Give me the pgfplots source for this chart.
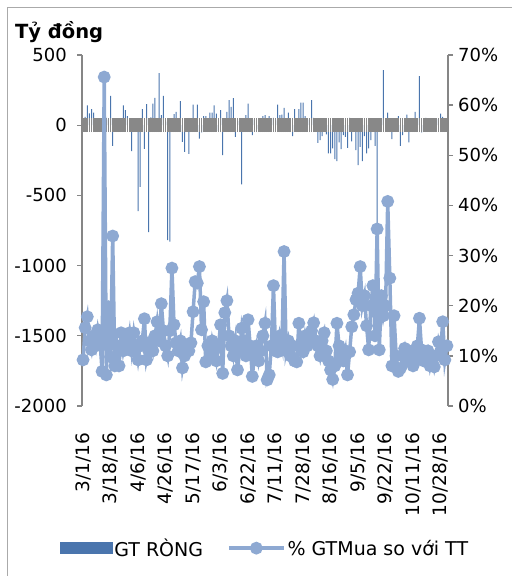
\documentclass[border=0pt]{standalone}
\usepackage{pgfplots}
\pgfplotsset{compat=1.18}
\usepackage{fontspec}
\setmainfont{DejaVu Sans}
\definecolor{barcol}{RGB}{74,117,173}
\definecolor{linecol}{RGB}{142,169,210}
\definecolor{axgray}{RGB}{134,134,134}
\definecolor{bandgray}{RGB}{136,136,136}
\definecolor{framegray}{RGB}{170,170,170}
\newcommand{\tickfont}{\fontsize{18bp}{20bp}\selectfont}
\newcommand{\datefont}{\fontsize{18.5bp}{20bp}\selectfont}
\newcommand{\legfont}{\fontsize{19bp}{21bp}\selectfont}
\begin{document}
\begin{tikzpicture}[x=1bp,y=1bp]
\useasboundingbox (0,0) rectangle (512,579);
\draw[framegray, line width=1.2bp] (7.5,3) -- (7.5,571.5) -- (530,571.5);
\node[anchor=base west, inner sep=0pt, font=\bfseries\fontsize{19.5bp}{22bp}\selectfont] at (15,540) {Tỷ đồng};
% ---------- bars, left axis, dates ----------
\begin{axis}[
  at={(82bp,173bp)}, anchor=south west,
  scale only axis, width=366bp, height=351bp,
  xmin=-0.5, xmax=172.5, ymin=-2000, ymax=500,
  axis y line*=left, axis x line*=bottom,
  x axis line style={draw=none},
  y axis line style={draw=axgray, line width=1.3bp},
  ytick={-2000,-1500,-1000,-500,0,500},
  yticklabels={-2000,-1500,-1000,-500,0,500},
  tick align=outside, major tick length=5bp,
  major y tick style={draw=axgray, line width=1.3bp},
  xtick={0,13,...,169},
  xticklabels={3/1/16,3/18/16,4/6/16,4/26/16,5/17/16,6/3/16,6/22/16,7/11/16,7/28/16,8/16/16,9/5/16,9/22/16,10/11/16,10/28/16},
  major x tick style={draw=none},
  xticklabel shift=22bp,
  x tick label style={rotate=90, anchor=east, font=\datefont, inner sep=0pt},
  y tick label style={font=\tickfont, inner sep=0pt, xshift=-10bp},
  clip=false,
]
\addplot[ybar, bar width=1bp, fill=barcol, draw=none] coordinates {
(0,40)(1,60)(2,142)(3,85)(4,114)(5,90)(6,-30)(7,20)(8,-25)(9,35)
(10,30)(11,-20)(12,40)(13,209)(14,-147)(15,25)(16,-35)(17,45)(18,30)(19,142)
(20,107)(21,64)(22,-30)(23,-185)(24,35)(25,-40)(26,-612)(27,-439)(28,114)(29,-169)
(30,150)(31,-762)(32,55)(33,153)(34,195)(35,-30)(36,370)(37,71)(38,209)(39,25)
(40,-819)(41,-830)(42,47)(43,78)(44,95)(45,30)(46,171)(47,-119)(48,-190)(49,40)
(50,-205)(51,30)(52,147)(53,-35)(54,147)(55,-95)(56,-52)(57,64)(58,64)(59,35)
(60,90)(61,90)(62,142)(63,83)(64,-40)(65,107)(66,-214)(67,40)(68,95)(69,178)
(70,130)(71,193)(72,-83)(73,30)(74,-25)(75,-421)(76,35)(77,71)(78,154)(79,20)
(80,-71)(81,40)(82,-30)(83,25)(84,-20)(85,64)(86,71)(87,30)(88,64)(89,-25)
(90,52)(91,35)(92,147)(93,71)(94,76)(95,124)(96,-30)(97,90)(98,35)(99,-78)
(100,114)(101,30)(102,114)(103,160)(104,160)(105,64)(106,-30)(107,40)(108,178)(109,52)
(110,20)(111,-126)(112,-107)(113,-78)(114,30)(115,-66)(116,-201)(117,-201)(118,-166)(119,-242)
(120,-256)(121,-123)(122,-171)(123,-71)(124,-83)(125,-161)(126,52)(127,-116)(128,-40)(129,-178)
(130,-285)(131,-154)(132,-256)(133,-78)(134,-201)(135,-166)(136,-107)(137,-45)(138,-147)(139,-740)
(140,30)(141,-25)(142,392)(143,35)(144,90)(145,-30)(146,-100)(147,40)(148,25)(149,64)
(150,-147)(151,-71)(152,30)(153,76)(154,-123)(155,35)(156,-20)(157,95)(158,30)(159,349)
(160,-52)(161,25)(162,52)(163,-30)(164,35)(165,40)(166,-25)(167,30)(168,45)(169,83)
(170,59)(171,30)(172,40)
};
\end{axis}
% ---------- gray category axis band at zero ----------
\begin{axis}[
  at={(82bp,173bp)}, anchor=south west,
  scale only axis, width=366bp, height=351bp,
  xmin=-0.5, xmax=172.5, ymin=-2000, ymax=500,
  axis x line=middle, axis y line=none,
  x axis line style={draw=none},
  xtick={0,1,...,172}, xticklabels={},
  tick align=center, major tick length=14bp,
  major x tick style={draw=bandgray, line width=1.8bp},
]
\addplot[draw=none] coordinates {(0,0)};
\end{axis}
% ---------- line, right axis, legend ----------
\begin{axis}[
  at={(82bp,173bp)}, anchor=south west,
  scale only axis, width=366bp, height=351bp,
  xmin=-0.5, xmax=172.5, ymin=0, ymax=70,
  axis y line*=right, axis x line=none,
  y axis line style={draw=axgray, line width=1.3bp},
  ytick={0,10,...,70},
  yticklabels={0\%,10\%,20\%,30\%,40\%,50\%,60\%,70\%},
  tick align=outside, major tick length=5bp,
  major y tick style={draw=axgray, line width=1.3bp},
  y tick label style={font=\tickfont, inner sep=0pt, xshift=5bp},
  clip=false,
  legend columns=2,
  legend style={draw=none, fill=none, at={(0.5,-0.405)}, anchor=center, font=\legfont,
    /tikz/every even column/.append style={column sep=22bp}, inner sep=0pt},
  legend cell align=left,
]
\addlegendimage{legend image code/.code={\fill[barcol] (0bp,-5.5bp) rectangle (52bp,5.5bp);}}
\addlegendentry{GT RÒNG}
\addplot[linecol, line width=3.5bp, mark=*, mark size=4.6bp, mark options={fill=linecol, draw=none},
  legend image code/.code={\draw[linecol, line width=3.5bp] (0bp,0bp) -- (55bp,0bp); \fill[linecol] (27.5bp,0bp) circle (4.6bp);}] coordinates {
(0,9.2)(1,15.6)(2,17.8)(3,13)(4,11.2)(5,14)(6,12)(7,15.2)(8,13)(9,6.9)
(10,65.6)(11,6.2)(12,19.8)(13,9.8)(14,33.9)(15,8)(16,12)(17,8)(18,14.6)(19,11)
(20,13)(21,12)(22,14.6)(23,11)(24,14.6)(25,12)(26,9.2)(27,12)(28,13)(29,17.4)
(30,9.2)(31,11)(32,12.8)(33,11)(34,14)(35,16.8)(36,13)(37,20.4)(38,15)(39,12)
(40,10)(41,15)(42,27.5)(43,16.2)(44,12.6)(45,11)(46,13)(47,7.6)(48,10)(49,12)
(50,11)(51,12.6)(52,18.8)(53,24.8)(54,24.5)(55,27.8)(56,15.2)(57,20.8)(58,8.8)(59,12)
(60,10)(61,13)(62,11)(63,9)(64,12)(65,16.2)(66,6.5)(67,18.6)(68,21)(69,14)
(70,12)(71,10)(72,13)(73,7.2)(74,11)(75,15.5)(76,13)(77,10)(78,17.2)(79,12)
(80,5.9)(81,10)(82,12)(83,9)(84,11)(85,14)(86,16.5)(87,5.2)(88,6.2)(89,12)
(90,24)(91,11)(92,10.8)(93,14)(94,12)(95,30.8)(96,11)(97,13)(98,10)(99,12)
(100,9)(101,8.8)(102,16.5)(103,12)(104,10.8)(105,14)(106,12)(107,13)(108,15)(109,16.6)
(110,13)(111,12)(112,10)(113,13)(114,14.6)(115,11)(116,9)(117,7.2)(118,5.3)(119,8)
(120,16.5)(121,12)(122,10)(123,9)(124,11)(125,6.2)(126,10.8)(127,15.8)(128,18.2)(129,21.2)
(130,22.5)(131,27.8)(132,20)(133,22)(134,16)(135,11.2)(136,20)(137,24)(138,14)(139,35.3)
(140,11.2)(141,22)(142,18)(143,20)(144,40.8)(145,25.5)(146,8)(147,18)(148,10)(149,6.9)
(150,7.5)(151,10)(152,11.5)(153,9)(154,11)(155,10)(156,8)(157,9.2)(158,12)(159,17.5)
(160,11.2)(161,9)(162,10)(163,11)(164,8)(165,10)(166,7.8)(167,10)(168,12.8)(169,11)
(170,16.8)(171,9.2)(172,12)
};
\addlegendentry{\% GTMua so với TT}
\end{axis}
\end{tikzpicture}
\end{document}
